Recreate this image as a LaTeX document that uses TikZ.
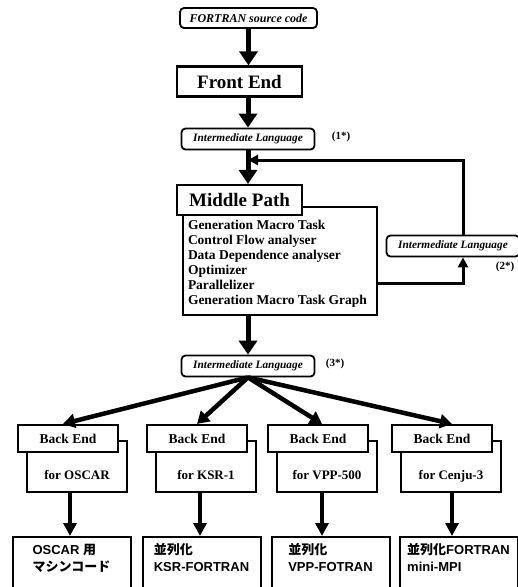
\documentclass[tikz,border=0pt]{standalone}
\usepackage{fontspec}
\setmainfont{Liberation Serif}
\setsansfont{Liberation Sans}
\newfontfamily\jpfont{Noto Sans CJK JP}
\usepackage{tikz}
\usetikzlibrary{shapes, arrows, arrows.meta}
\usetikzlibrary{positioning}
\tikzstyle{srcbox} = [rectangle, rounded corners = 4, draw = black,
  line width = 1.8, minimum width = 137, minimum height = 20, inner sep = 0,
  font = \fontsize{12}{14}\selectfont\bfseries\itshape]
\tikzstyle{ilbox} = [srcbox, minimum width = 133, minimum height = 21,
  font = \fontsize{11.3}{13}\selectfont\bfseries\itshape]
\tikzstyle{stage} = [
  rectangle, draw = black, line width = 2.2, fill = white,
  minimum width = 125, minimum height = 30, inner sep = 0,
  font = \fontsize{19}{21}\selectfont\bfseries
]
\tikzstyle{work} = [rectangle, draw = black, line width = 1.8,
  inner xsep = 5, inner ysep = 0, font = \fontsize{13.5}{15}\selectfont\bfseries]
\tikzstyle{be} = [rectangle, draw = black, line width = 2.2, fill = white,
  minimum width = 100, minimum height = 27, inner sep = 0,
  font = \fontsize{13.5}{15}\selectfont\bfseries]
\tikzstyle{target} = [rectangle, draw = black, line width = 2, minimum width = 100,
  inner xsep = 0, inner ysep = 12, text height = 26pt, text depth = 1pt,
  font = \fontsize{13}{15}\selectfont\bfseries]
\tikzstyle{outbox} = [rectangle, draw = black, line width = 2, inner sep = 6,
  font = \fontsize{13}{17}\selectfont\sffamily\bfseries]
\tikzstyle{note} = [inner sep = 0, font = \fontsize{11}{13}\selectfont\bfseries]
\tikzstyle{fat} = [line width = 5, -{Triangle[length = 14pt, width = 18pt]}]
\tikzstyle{fan} = [line width = 4.5, -{Triangle[length = 12pt, width = 14pt]}]
\tikzstyle{down} = [line width = 4, -{Triangle[length = 13pt, width = 13pt]}]
\tikzstyle{feedback} = [line width = 3, -{Triangle[length = 10pt, width = 10pt]}]

\begin{document}
\begin{tikzpicture}[node distance = 0, x = 1pt, y = 1pt]
    \useasboundingbox (0, 0) rectangle (518, -587);

    \node [srcbox] (src) at (248.5, -18) {FORTRAN source code};
    \node [stage, below of = src, yshift = -63.5, xshift = -9] (fe) {Front End};
    \node [ilbox, below of = fe, yshift = -57.5, xshift = 8.5] (il-1) {Intermediate Language};
    \node [note, right of = il-1, xshift = 93, yshift = 2] (n-1) {(1*)};
    \node [work, below of = il-1, yshift = -122, xshift = 32] (mp-body) {%
      \parbox[t][108pt][t]{184pt}{\vspace*{13.5pt}Generation Macro Task\\
        Control Flow analyser\\Data Dependence analyser\\Optimizer\\
        Parallelizer\\Generation Macro Task Graph}};
    \node [stage, below of = il-1, yshift = -61, xshift = -8.5] (mp) {Middle Path};
    \coordinate [below of = il-1, yshift = -21] (fb-in);
    \node [ilbox, right of = mp-body, xshift = 173, yshift = 15] (il-2) {Intermediate Language};
    \node [note, below of = il-2, xshift = 52, yshift = -21] (n-2) {(2*)};
    \node [ilbox, below of = mp-body, yshift = -105, xshift = -32] (il-3) {Intermediate Language};
    \node [note, right of = il-3, xshift = 87, yshift = 2] (n-3) {(3*)};

    \node [target, below of = il-3, yshift = -100.5, xshift = -171] (tg-1) {for OSCAR};
    \node [target, below of = il-3, yshift = -100.5, xshift = -42] (tg-2) {for KSR-1};
    \node [target, below of = il-3, yshift = -100.5, xshift = 79] (tg-3) {for VPP-500};
    \node [target, below of = il-3, yshift = -100.5, xshift = 203] (tg-4) {for Cenju-3};
    \node [be, above of = tg-1, yshift = 28, xshift = -9] (be-1) {Back End};
    \node [be, above of = tg-2, yshift = 28, xshift = -9] (be-2) {Back End};
    \node [be, above of = tg-3, yshift = 28, xshift = -9] (be-3) {Back End};
    \node [be, above of = tg-4, yshift = 28, xshift = -9] (be-4) {Back End};

    \node [outbox, below of = tg-1, yshift = -106.5, xshift = -5.5] (out-1) {%
      \parbox[t][60pt][t]{106pt}{\centering\begin{tabular}{@{}l@{}}
        OSCAR {\jpfont 用}\\{\jpfont マシンコード}\end{tabular}}};
    \node [outbox, below of = tg-2, yshift = -106.5, xshift = -4.5] (out-2) {%
      \parbox[t][60pt][t]{106pt}{\centering\begin{tabular}{@{}l@{}}
        {\jpfont 並列化}\\KSR-FORTRAN\end{tabular}}};
    \node [outbox, below of = tg-3, yshift = -106.5, xshift = 3.5] (out-3) {%
      \parbox[t][60pt][t]{106pt}{\centering\begin{tabular}{@{}l@{}}
        {\jpfont 並列化}\\VPP-FOTRAN\end{tabular}}};
    \node [outbox, below of = tg-4, yshift = -106.5, xshift = 7.5] (out-4) {%
      \parbox[t][60pt][t]{106pt}{\centering\begin{tabular}{@{}l@{}}
        {\jpfont 並列化}FORTRAN\\mini-MPI\end{tabular}}};

    \draw [fat] (src.south) -- (src.south |- fe.north);
    \draw [fat] (il-1.north |- fe.south) -- (il-1.north);
    \draw [fat] (il-1.south) -- (il-1.south |- mp.north);
    \draw [fat] (il-3.north |- mp-body.south) -- (il-3.north);
    \draw [feedback] ([yshift = -22]mp-body.east) -| ([xshift = 10]il-2.south);
    \draw [feedback] ([xshift = 10]il-2.north) |- (fb-in);
    \draw [fan] (il-3.south) -- ([xshift = -5]be-1.north);
    \draw [fan] (il-3.south) -- (be-2.north);
    \draw [fan] (il-3.south) -- ([xshift = 4]be-3.north);
    \draw [fan] (il-3.south) -- ([xshift = 10]be-4.north);
    \draw [down] ([xshift = -7]tg-1.south) -- ([xshift = -7]tg-1.south |- out-1.north);
    \draw [down] ([xshift = -6]tg-2.south) -- ([xshift = -6]tg-2.south |- out-2.north);
    \draw [down] ([xshift = -5]tg-3.south) -- ([xshift = -5]tg-3.south |- out-3.north);
    \draw [down] ([xshift = 1]tg-4.south) -- ([xshift = 1]tg-4.south |- out-4.north);
  \end{tikzpicture}
\end{document}
